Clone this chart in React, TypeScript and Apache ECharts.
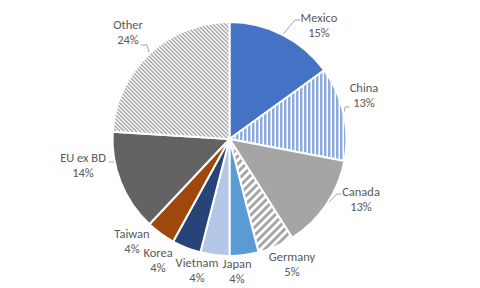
import React, { useEffect, useRef } from "react";
import * as echarts from "echarts";

// Shares by partner, clockwise from 12 o'clock
const categories = ["Mexico", "China", "Canada", "Germany", "Japan", "Vietnam", "Korea", "Taiwan", "EU ex BD", "Other"];
const shares = [15, 13, 13, 5, 4, 4, 4, 4, 14, 24];

// Solid fills; null entries get a hatch pattern below
const solidColors: (string | null)[] = [
  "#4472C4", null, "#A5A5A5", null, "#5B9BD5", "#B4C7E7", "#264478", "#9E480E", "#636363", null,
];

// Label block centres and optional leader-line bend/end points
const labelPlacement: { x: number; y: number; bend?: number[]; end?: number[] }[] = [
  { x: 319, y: 25, bend: [295, 20], end: [300, 20] },
  { x: 364, y: 95, bend: [345, 107], end: [350, 107] },
  { x: 361, y: 199, bend: [337, 194], end: [341, 194] },
  { x: 292, y: 264 },
  { x: 237, y: 271 },
  { x: 197, y: 270 },
  { x: 158, y: 260 },
  { x: 132, y: 241 },
  { x: 83, y: 165, bend: [115, 162], end: [109, 162] },
  { x: 128, y: 32, bend: [147, 45], end: [141, 45] },
];

type Hatch = { size: number; width: number; color: string; dir: "v" | "up" | "down" };

function hatchTile(h: Hatch) {
  const c = document.createElement("canvas");
  c.width = h.size;
  c.height = h.size;
  const ctx = c.getContext("2d")!;
  const img = ctx.createImageData(h.size, h.size);
  const hex = h.color.replace("#", "");
  const r = parseInt(hex.slice(0, 2), 16);
  const g = parseInt(hex.slice(2, 4), 16);
  const b = parseInt(hex.slice(4, 6), 16);
  const ss = 4;
  for (let y = 0; y < h.size; y++) {
    for (let x = 0; x < h.size; x++) {
      let hit = 0;
      for (let sy = 0; sy < ss; sy++) {
        for (let sx = 0; sx < ss; sx++) {
          const px = x + (sx + 0.5) / ss;
          const py = y + (sy + 0.5) / ss;
          let t: number;
          if (h.dir === "v") t = px;
          else if (h.dir === "up") t = px + py;
          else t = px - py;
          t = ((t % h.size) + h.size) % h.size;
          if (t < h.width) hit++;
        }
      }
      const a = hit / (ss * ss);
      const i = (y * h.size + x) * 4;
      img.data[i] = Math.round(255 * (1 - a) + r * a);
      img.data[i + 1] = Math.round(255 * (1 - a) + g * a);
      img.data[i + 2] = Math.round(255 * (1 - a) + b * a);
      img.data[i + 3] = 255;
    }
  }
  ctx.putImageData(img, 0, 0);
  return { image: c, repeat: "repeat", imageWidth: h.size, imageHeight: h.size } as any;
}

const hatches: Record<number, Hatch> = {
  1: { size: 4, width: 2.5, color: "#8FAADC", dir: "v" },
  3: { size: 8, width: 4, color: "#A5A5A5", dir: "up" },
  9: { size: 4, width: 2, color: "#A5A5A5", dir: "down" },
};

export default function App() {
  const ref = useRef<HTMLDivElement>(null);

  useEffect(() => {
    if (!ref.current) return;
    const chart = echarts.init(ref.current, undefined, { renderer: "svg" });

    const data = categories.map((name, i) => {
      const fill = solidColors[i] ?? hatchTile(hatches[i]);
      const p = labelPlacement[i];
      return {
        name,
        value: shares[i],
        itemStyle: { color: fill },
        labelLine: { show: !!p.bend },
      };
    });

    chart.setOption({
      animation: false,
      backgroundColor: "#FFFFFF",
      series: [
        {
          type: "pie",
          center: [229.5, 139],
          radius: 117,
          startAngle: 90,
          clockwise: true,
          avoidLabelOverlap: false,
          itemStyle: { borderColor: "#FFFFFF", borderWidth: 2 },
          label: {
            show: true,
            position: "outside",
            formatter: "{b}\n{c}%",
            color: "#595959",
            fontFamily: "Carlito, Calibri, Lato, sans-serif",
            fontSize: 12.5,
            lineHeight: 15,
            align: "center",
          },
          labelLine: {
            show: true,
            length: 8,
            length2: 6,
            lineStyle: { color: "#A6A6A6", width: 1 },
          },
          emphasis: { disabled: true },
          labelLayout: (params: any) => {
            const p = labelPlacement[params.dataIndex];
            const out: any = { x: p.x, y: p.y, align: "center", verticalAlign: "middle" };
            if (p.bend && params.labelLinePoints && params.labelLinePoints[0]) {
              out.labelLinePoints = [params.labelLinePoints[0], p.bend, p.end];
            }
            return out;
          },
          data,
        },
      ],
    });

    return () => chart.dispose();
  }, []);

  return (
    <div
      ref={ref}
      style={{ position: "fixed", left: 0, top: 0, width: 480, height: 288 }}
    />
  );
}
